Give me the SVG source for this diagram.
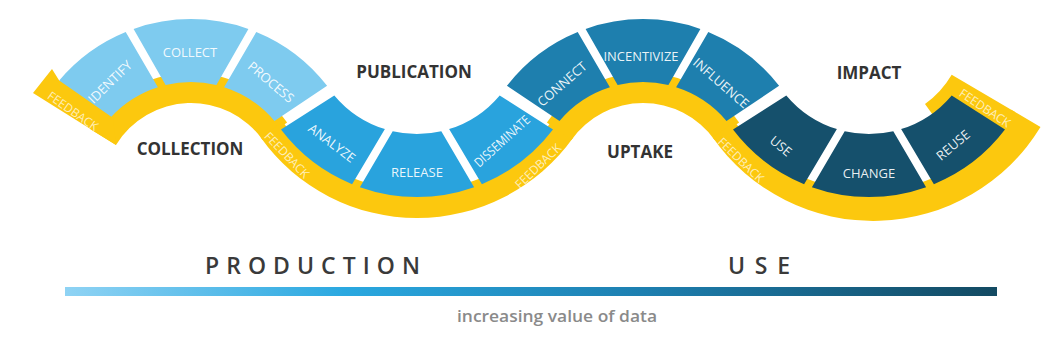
<svg xmlns="http://www.w3.org/2000/svg" width="1045" height="358" viewBox="0 0 1045 358">
<defs>
<style>
.y{fill:#fcc80e}
.c1{fill:#7ecbef}
.c2{fill:#29a3dd}
.c3{fill:#1e7fae}
.c4{fill:#15506c}
.lbl{font-family:"Open Sans","DejaVu Sans",sans-serif;font-size:13px;fill:#ffffff;fill-opacity:.92;text-anchor:middle}
.fb{font-family:"Open Sans","DejaVu Sans",sans-serif;font-size:12px;fill:#ffffff;fill-opacity:.72;text-anchor:middle}
.stage{font-family:"Open Sans","DejaVu Sans",sans-serif;font-weight:700;font-size:17px;fill:#333333;text-anchor:middle}
.big{font-family:"Open Sans","DejaVu Sans",sans-serif;font-weight:600;font-size:23px;fill:#3a3a3a}
.sub{font-family:"Open Sans","DejaVu Sans",sans-serif;font-weight:600;font-size:17px;fill:#8a8a8a;text-anchor:middle}
</style>
<linearGradient id="bar" x1="0" y1="0" x2="1" y2="0">
<stop offset="0" stop-color="#8fd3f4"/>
<stop offset="0.3" stop-color="#2aa8e0"/>
<stop offset="0.62" stop-color="#1d7fb0"/>
<stop offset="1" stop-color="#134a62"/>
</linearGradient>
<path id="hl" d="M-136.1,-105.2 A172,172 0 0 1 -65.3,-159.1 L-33.1,-103.8 A109,109 0 0 0 -83.5,-70.1 Z"/>
<path id="hc" d="M-57.4,-162.1 A172,172 0 0 1 57.4,-162.1 L25.4,-106 A109,109 0 0 0 -25.4,-106 Z"/>
<path id="hr" d="M65.3,-159.1 A172,172 0 0 1 136.1,-105.2 L83.5,-70.1 A109,109 0 0 0 33.1,-103.8 Z"/>
<path id="vl" d="M-82.7,69.4 A108,108 0 0 0 -32.1,103.1 L-64.9,158.2 A171,171 0 0 1 -136,103.6 Z"/>
<path id="vc" d="M-24.3,105.2 A108,108 0 0 0 24.3,105.2 L57.1,161.2 A171,171 0 0 1 -57.1,161.2 Z"/>
<path id="vr" d="M32.1,103.1 A108,108 0 0 0 82.7,69.4 L136,103.6 A171,171 0 0 1 64.9,158.2 Z"/>
</defs>
<rect width="1045" height="358" fill="#ffffff"/>

<g id="feedback-band">
<path class="y" transform="translate(191,191)" d="M-100.6,-61.7 A118,118 0 0 1 96.1,-68.5 L71.6,-51.1 A88,88 0 0 0 -75,-46 Z"/>
<path class="y" transform="translate(191,191)" d="M-139,-122 L-158,-98 L-75,-46 L-80.3,-95.8 L-131.8,-110.6 Z"/>
<path class="y" transform="translate(417,26)" d="M-134.3,95.8 A165,165 0 0 0 134.3,95.8 L156.3,111.5 A192,192 0 0 1 -156.3,111.5 Z"/>
<path class="y" transform="translate(643,191)" d="M-96.1,-68.5 A118,118 0 0 1 96.1,-68.5 L71.6,-51.1 A88,88 0 0 0 -71.6,-51.1 Z"/>
<path class="y" transform="translate(869,26)" d="M-134.3,95.8 A165,165 0 0 0 142.2,83.7 L171.5,101 A196,196 0 0 1 -156.3,111.5 Z"/>
<path class="y" transform="translate(869,26)" d="M56,78 A96,96 0 0 0 82.7,48.7 L146.5,86.3 L120.2,120.2 L84.9,84.9 L70,97.5 Z"/>
<text class="fb" transform="translate(73,111) rotate(35)" dy=".36em">FEEDBACK</text>
<text class="fb" transform="translate(287,155) rotate(46)" dy=".36em">FEEDBACK</text>
<text class="fb" transform="translate(538,166) rotate(-44)" dy=".36em">FEEDBACK</text>
<text class="fb" transform="translate(741,160) rotate(44)" dy=".36em">FEEDBACK</text>
<text class="fb" transform="translate(985,108) rotate(34)" dy=".36em">FEEDBACK</text>
</g>

<g id="identify">
<path class="c1" transform="translate(191,191)" d="M-131.8,-110.6 A172,172 0 0 1 -65.3,-159.1 L-33.1,-103.8 A109,109 0 0 0 -79.7,-74.3 Z"/>
<text class="lbl" transform="translate(110,82) rotate(-44)" dy=".36em">IDENTIFY</text>
</g>
<g id="collect">
<use href="#hc" class="c1" transform="translate(191,191)"/>
<text class="lbl" x="190" y="52" dy=".36em">COLLECT</text>
</g>
<g id="process">
<use href="#hr" class="c1" transform="translate(191,191)"/>
<text class="lbl" transform="translate(271,82) rotate(40)" dy=".36em">PROCESS</text>
</g>
<g id="analyze">
<use href="#vl" class="c2" transform="translate(417,26)"/>
<text class="lbl" transform="translate(332,143) rotate(37)" dy=".36em">ANALYZE</text>
</g>
<g id="release">
<use href="#vc" class="c2" transform="translate(417,26)"/>
<text class="lbl" x="417" y="172" dy=".36em">RELEASE</text>
</g>
<g id="disseminate">
<use href="#vr" class="c2" transform="translate(417,26)"/>
<text class="lbl" transform="translate(502,141) rotate(-42)" dy=".36em" font-size="12" textLength="70" lengthAdjust="spacingAndGlyphs">DISSEMINATE</text>
</g>
<g id="connect">
<use href="#hl" class="c3" transform="translate(643,191)"/>
<text class="lbl" transform="translate(562,84) rotate(-41)" dy=".36em">CONNECT</text>
</g>
<g id="incentivize">
<use href="#hc" class="c3" transform="translate(643,191)"/>
<text class="lbl" x="641" y="56" dy=".36em" textLength="75" lengthAdjust="spacingAndGlyphs">INCENTIVIZE</text>
</g>
<g id="influence">
<use href="#hr" class="c3" transform="translate(643,191)"/>
<text class="lbl" transform="translate(721,83) rotate(41)" dy=".36em">INFLUENCE</text>
</g>
<g id="use">
<use href="#vl" class="c4" transform="translate(869,26)"/>
<text class="lbl" transform="translate(781,146) rotate(40)" dy=".36em">USE</text>
</g>
<g id="change">
<use href="#vc" class="c4" transform="translate(869,26)"/>
<text class="lbl" x="869" y="173" dy=".36em">CHANGE</text>
</g>
<g id="reuse">
<use href="#vr" class="c4" transform="translate(869,26)"/>
<text class="lbl" transform="translate(953,145) rotate(-40)" dy=".36em">REUSE</text>
</g>

<g id="stages">
<text class="stage" x="190" y="155">COLLECTION</text>
<text class="stage" x="414" y="78">PUBLICATION</text>
<text class="stage" x="640" y="158">UPTAKE</text>
<text class="stage" x="869" y="79">IMPACT</text>
</g>

<g id="axis">
<text class="big" x="205" y="274" textLength="215" lengthAdjust="spacing">PRODUCTION</text>
<text class="big" x="728" y="274" textLength="62" lengthAdjust="spacing">USE</text>
<rect x="65" y="287" width="932" height="9" fill="url(#bar)"/>
<text class="sub" x="557" y="322" textLength="200" lengthAdjust="spacingAndGlyphs">increasing value of data</text>
</g>
</svg>
